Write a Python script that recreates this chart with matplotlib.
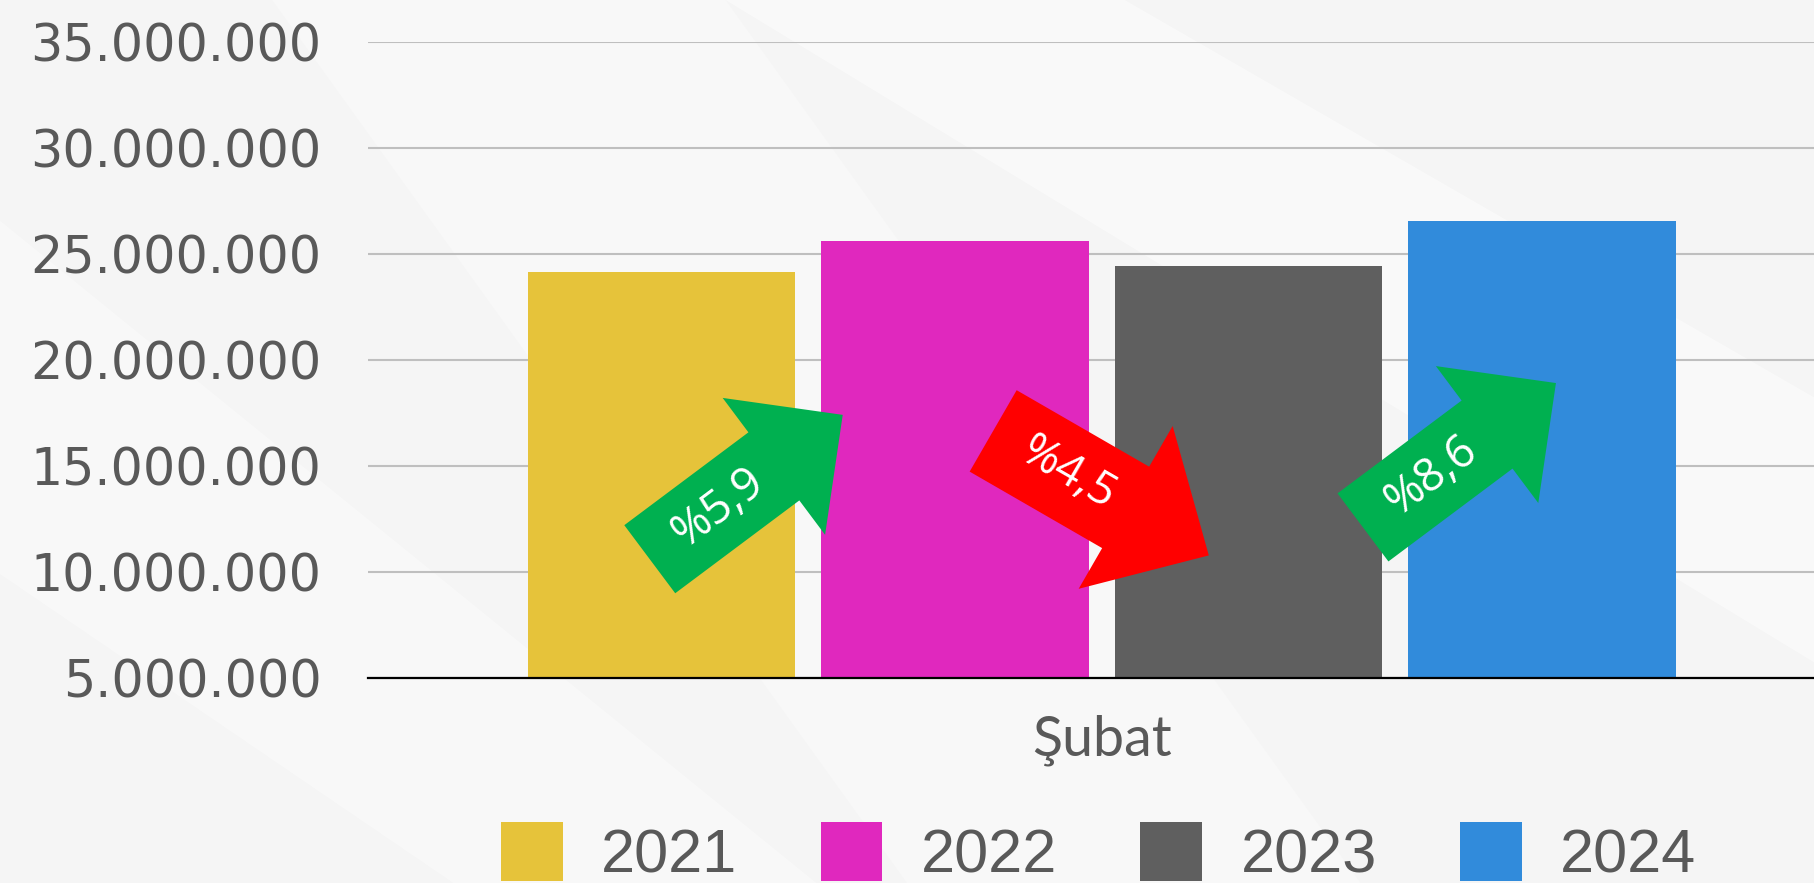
import numpy as np
import matplotlib
matplotlib.use('Agg')
import matplotlib.pyplot as plt
from matplotlib.patches import Polygon, Patch
from matplotlib.transforms import IdentityTransform

years = ['2021', '2022', '2023', '2024']
values = [24150000, 25580000, 24430000, 26530000]
colors = ['#e6c33a', '#e028be', '#5f5f5f', '#318bdb']
month = 'Şubat'
yticks = [5000000, 10000000, 15000000, 20000000, 25000000, 30000000, 35000000]

# change arrows between years
changes = ['%5,9', '%4,5', '%8,6']
arrow_col = ['#00b050', '#ff0000', '#00b050']
arrow_x = [-0.04, 1.13, 2.39]          # tail position, bar units
arrow_y = [10600000, 16650000, 12100000]
arrow_ang = [36.8, -30.0, 36.8]
# length, shaft width, head width, shaft length (pixels)
arrow_dims = [(241, 85, 171, 155), (249, 94, 188, 153), (241, 85, 171, 155)]

fig = plt.figure(figsize=(18.14, 8.83), dpi=100)
fig.patch.set_facecolor('#f5f5f5')
# soft background swooshes
fig.add_artist(Polygon([[0.40, 1.0], [0.62, 1.0], [1.0, 0.55], [1.0, 0.25]],
                       closed=True, transform=fig.transFigure, fc='white', alpha=0.45,
                       lw=0, zorder=-5))
fig.add_artist(Polygon([[0.0, 0.75], [0.0, 0.35], [0.25, 0.0], [0.45, 0.0]],
                       closed=True, transform=fig.transFigure, fc='white', alpha=0.35,
                       lw=0, zorder=-5))
fig.add_artist(Polygon([[0.15, 1.0], [0.40, 1.0], [0.75, 0.0], [0.50, 0.0]],
                       closed=True, transform=fig.transFigure, fc='white', alpha=0.3,
                       lw=0, zorder=-5))

ax = fig.add_axes([368 / 1814, 205 / 883, 1467.5 / 1814, 636.3 / 883])
ax.set_facecolor('none')

x = np.arange(len(years))
ax.bar(x, values, width=0.91, color=colors, zorder=2)
ax.set_xlim(-1, 4)
ax.set_ylim(5000000, 35000000)

ax.set_yticks(yticks)
ax.set_yticklabels(['{:,.0f}'.format(v).replace(',', '.') for v in yticks])
ax.tick_params(axis='y', length=0, pad=33.5, labelsize=36.5, labelcolor='#595959')
ax.set_xticks([1.5])
ax.set_xticklabels([month], family='Lato', fontsize=40, color='#595959')
ax.tick_params(axis='x', length=0, pad=26)

ax.grid(axis='y', color='#bfbfbf', lw=1.5, zorder=0)
for s in ['top', 'right', 'left']:
    ax.spines[s].set_visible(False)
ax.spines['bottom'].set_color('black')
ax.spines['bottom'].set_linewidth(1.6)
ax.spines['bottom'].set_zorder(3)

for i in range(len(changes)):
    tx, ty = ax.transData.transform((arrow_x[i], arrow_y[i]))
    L, w, hw, ls = arrow_dims[i]
    a = np.radians(arrow_ang[i])
    d = np.array([np.cos(a), np.sin(a)])
    n = np.array([-np.sin(a), np.cos(a)])
    T = np.array([tx, ty])
    pts = [T + n * w / 2, T + n * w / 2 + d * ls, T + n * hw / 2 + d * ls, T + d * L,
           T - n * hw / 2 + d * ls, T - n * w / 2 + d * ls, T - n * w / 2]
    ax.add_patch(Polygon(pts, closed=True, fc=arrow_col[i], lw=0,
                         transform=IdentityTransform(), clip_on=False, zorder=4))
    cx, cy = T + d * 86
    ax.text(cx, cy, changes[i], transform=IdentityTransform(), color='white',
            fontsize=33, family='Open Sans', rotation=arrow_ang[i], rotation_mode='anchor',
            ha='center', va='center', zorder=5)

handles = [Patch(fc=c, lw=0) for c in colors]
leg = fig.legend(handles, years, loc='center left', bbox_to_anchor=(501 / 1814, 29 / 883),
                 ncol=4, frameon=False, handlelength=1.01, handleheight=1.1,
                 handletextpad=0.63, columnspacing=1.36, borderpad=0, borderaxespad=0,
                 prop={'family': 'Liberation Sans', 'size': 44})
for t in leg.get_texts():
    t.set_color('#595959')

fig.savefig('out.png', dpi=100, facecolor=fig.get_facecolor())
